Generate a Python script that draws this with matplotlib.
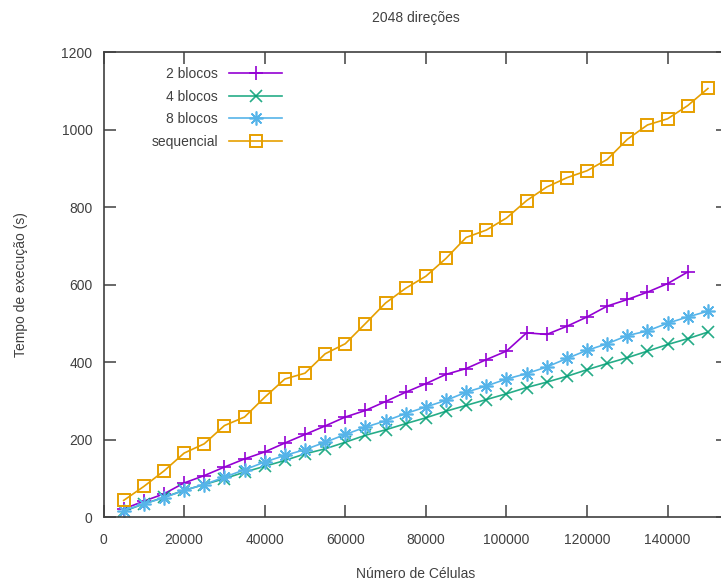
import matplotlib
matplotlib.use("Agg")
import matplotlib.pyplot as plt

# dados
celulas = [5000, 10000, 15000, 20000, 25000, 30000, 35000, 40000, 45000, 50000,
           55000, 60000, 65000, 70000, 75000, 80000, 85000, 90000, 95000, 100000,
           105000, 110000, 115000, 120000, 125000, 130000, 135000, 140000, 145000, 150000]

blocos2 = [22, 42, 61, 89, 108, 130, 151, 169, 192, 214,
           236, 259, 276, 299, 323, 345, 369, 384, 407, 429,
           476, 472, 493, 517, 545, 562, 581, 603, 633]
blocos4 = [16, 35, 52, 70, 85, 100, 117, 132, 147, 164,
           177, 194, 212, 226, 242, 257, 274, 289, 304, 319,
           335, 349, 364, 381, 397, 412, 429, 446, 461, 478]
blocos8 = [18, 35, 51, 70, 85, 104, 123, 143, 160, 175,
           194, 214, 233, 249, 268, 285, 302, 323, 339, 357,
           371, 388, 410, 431, 448, 469, 481, 501, 517, 532]
sequencial = [44, 80, 120, 166, 190, 237, 259, 310, 357, 372,
              422, 448, 500, 553, 591, 622, 668, 722, 741, 772,
              817, 852, 876, 894, 923, 975, 1012, 1028, 1062, 1106]

plt.rcParams['font.family'] = ['Liberation Sans', 'DejaVu Sans']
plt.rcParams['font.size'] = 10

cinza = '#404040'

fig = plt.figure(figsize=(7.21, 5.84), dpi=100)
# o eixo passa da borda direita (imagem original cortada)
ax = fig.add_axes([0.1436, 0.1139, 0.8662, 0.797])

ax.plot(celulas[:len(blocos2)], blocos2, color='#9400D3', lw=1.2,
        marker='+', ms=10, mew=1.2, label='2 blocos')
ax.plot(celulas, blocos4, color='#009E73', lw=1.2, alpha=0.85,
        marker='x', ms=8, mew=1.2, label='4 blocos')
ax.plot(celulas, blocos8, color='#56B4E9', lw=1.2,
        marker=(8, 2, 0), ms=10, mew=1.2, label='8 blocos')
ax.plot(celulas, sequencial, color='#E69F00', lw=1.2,
        marker='s', ms=9, mfc='none', mew=1.4, label='sequencial')

ax.set_xlim(0, 155000)
ax.set_ylim(0, 1200)
ax.set_xticks(range(0, 160000, 20000))
ax.set_yticks(range(0, 1201, 200))

ax.tick_params(direction='in', length=8.5, width=1.1, color=cinza,
               top=True, right=True, labelcolor=cinza)
ax.tick_params(axis='x', pad=11)
ax.tick_params(axis='y', pad=8)
for s in ax.spines.values():
    s.set_color(cinza)
    s.set_linewidth(1.2)

ax.set_xlabel('Número de Células', color=cinza, va='center')
ax.xaxis.set_label_coords(0.5, -0.121)
ax.set_ylabel('Tempo de execução (s)', color=cinza, va='center')
ax.yaxis.set_label_coords(-0.132, 0.5)
ax.text(0.5, 1.073, '2048 direções', transform=ax.transAxes,
        ha='center', va='center', color=cinza, fontsize=10)

leg = ax.legend(loc='upper right', bbox_to_anchor=(0.2858, 0.968),
                frameon=False, markerfirst=False, borderpad=0, borderaxespad=0,
                handlelength=3.8, handletextpad=0.8, labelspacing=0.62)
for t in leg.get_texts():
    t.set_color(cinza)

fig.savefig('out.png', dpi=100)
